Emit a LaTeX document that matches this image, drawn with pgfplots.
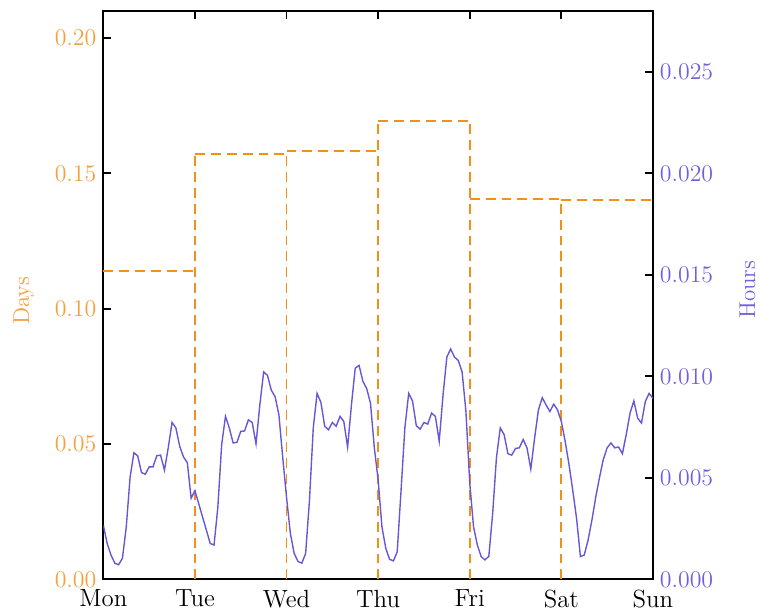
\documentclass[border=0pt]{standalone}
\usepackage{pgfplots}
\pgfplotsset{compat=1.18}
\usepackage{pgfplotstable}
\definecolor{orng}{RGB}{240,145,25}
\definecolor{orngl}{RGB}{245,160,60}
\definecolor{purp}{RGB}{105,85,215}
\definecolor{purpl}{RGB}{115,95,220}
\pgfplotstableread{
h v
0 0.00266
1 0.00177
2 0.00120
3 0.00080
4 0.00072
5 0.00104
6 0.00258
7 0.00502
8 0.00624
9 0.00608
10 0.00526
11 0.00518
12 0.00554
13 0.00554
14 0.00609
15 0.00612
16 0.00538
17 0.00648
18 0.00773
19 0.00746
20 0.00656
21 0.00603
22 0.00575
23 0.00400
24 0.00437
25 0.00372
26 0.00307
27 0.00242
28 0.00177
29 0.00169
30 0.00356
31 0.00664
32 0.00803
33 0.00746
34 0.00672
35 0.00675
36 0.00729
37 0.00731
38 0.00786
39 0.00773
40 0.00668
41 0.00859
42 0.01022
43 0.01005
44 0.00932
45 0.00900
46 0.00810
47 0.00600
48 0.00404
49 0.00226
50 0.00128
51 0.00088
52 0.00080
53 0.00128
54 0.00388
55 0.00746
56 0.00916
57 0.00872
58 0.00754
59 0.00737
60 0.00773
61 0.00754
62 0.00803
63 0.00778
64 0.00651
65 0.00859
66 0.01041
67 0.01054
68 0.00976
69 0.00940
70 0.00867
71 0.00648
72 0.00490
73 0.00258
74 0.00153
75 0.00099
76 0.00091
77 0.00136
78 0.00437
79 0.00746
80 0.00916
81 0.00879
82 0.00757
83 0.00740
84 0.00773
85 0.00765
86 0.00819
87 0.00803
88 0.00680
89 0.00908
90 0.01095
91 0.01135
92 0.01095
93 0.01078
94 0.01022
95 0.00827
96 0.00475
97 0.00258
98 0.00169
99 0.00112
100 0.00096
101 0.00114
102 0.00323
103 0.00600
104 0.00746
105 0.00713
106 0.00619
107 0.00612
108 0.00645
109 0.00648
110 0.00689
111 0.00648
112 0.00543
113 0.00697
114 0.00835
115 0.00895
116 0.00859
117 0.00827
118 0.00863
119 0.00835
120 0.00778
121 0.00680
122 0.00567
123 0.00437
124 0.00299
125 0.00112
126 0.00120
127 0.00193
128 0.00291
129 0.00404
130 0.00502
131 0.00591
132 0.00648
133 0.00672
134 0.00648
135 0.00652
136 0.00619
137 0.00713
138 0.00819
139 0.00879
140 0.00794
141 0.00770
142 0.00876
143 0.00916
144 0.00892
}\hourdata
\begin{document}
\begin{tikzpicture}
\pgfplotsset{
  base/.style={
    scale only axis, width=276.5pt, height=286pt,
    axis line style={line width=0.9pt, black},
    every tick/.style={black, line width=0.9pt},
    major tick length=4pt,
    tick label style={font=\fontsize{12.5}{14}\selectfont},
    label style={font=\fontsize{11.5}{13}\selectfont},
  },
  stp/.style={orng, line width=0.9pt, dash pattern=on 5pt off 3pt, mark=none},
}
\begin{axis}[base, clip=false,
  xmin=0, xmax=6, ymin=0, ymax=0.21,
  xtick={0,1,2,3,4,5,6},
  xticklabels={Mon,Tue,Wed,Thu,Fri,Sat,Sun},
  xtick pos=both, ytick pos=left,
  ytick={0,0.05,0.10,0.15,0.20},
  yticklabel style={color=orngl, /pgf/number format/fixed, /pgf/number format/precision=2, /pgf/number format/fixed zerofill},
  scaled y ticks=false,
  xticklabel style={yshift=-1.8pt},
  ylabel={Days}, ylabel style={color=orngl, at={(axis description cs:-0.145,0.49)}, anchor=center},
]
\addplot[stp] coordinates {(0,0.114) (1,0.114)};
\addplot[stp] coordinates {(1,0.157) (2,0.157)};
\addplot[stp] coordinates {(2,0.1583) (3,0.1583)};
\addplot[stp] coordinates {(3,0.1694) (4,0.1694)};
\addplot[stp] coordinates {(4,0.1406) (5,0.1406)};
\addplot[stp] coordinates {(5,0.1402) (6,0.1402)};
\addplot[stp] coordinates {(1,0) (1,0.157)};
\addplot[stp] coordinates {(2,0) (2,0.1583)};
\addplot[stp] coordinates {(3,0) (3,0.1694)};
\addplot[stp] coordinates {(4,0) (4,0.1694)};
\addplot[stp] coordinates {(5,0) (5,0.1402)};
\path (rel axis cs:0,0) -- ++(-52pt,-14.5pt);
\path (rel axis cs:1,1) -- ++(52.5pt,5.5pt);
\end{axis}
\begin{axis}[base,
  xmin=0, xmax=144, ymin=0, ymax=0.028,
  axis x line=none, axis y line*=right,
  ytick={0,0.005,0.010,0.015,0.020,0.025},
  yticklabel style={color=purpl, /pgf/number format/fixed, /pgf/number format/precision=3, /pgf/number format/fixed zerofill},
  scaled y ticks=false,
  ylabel={Hours}, ylabel style={color=purpl, at={(axis description cs:1.172,0.51)}, anchor=center},
]
\addplot[color=purp, line width=0.7pt, mark=none] table[x=h, y=v] {\hourdata};
\end{axis}
\end{tikzpicture}
\end{document}
